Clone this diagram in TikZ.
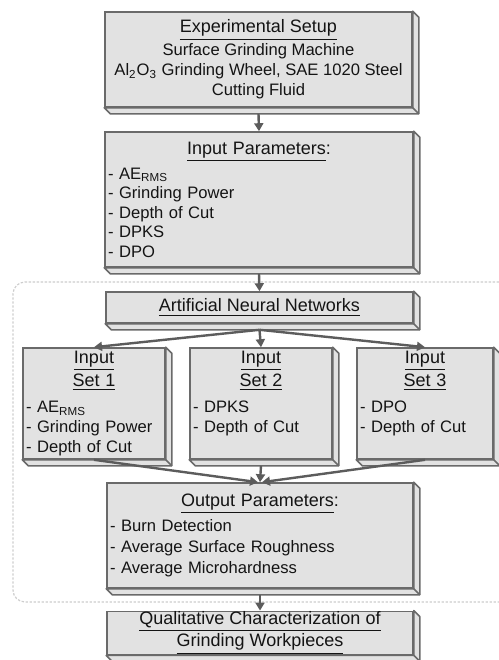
\documentclass[tikz,border=0pt]{standalone}
\usepackage{fontspec}
\setmainfont{Liberation Sans}
\usetikzlibrary{arrows.meta}
\definecolor{slabfill}{HTML}{E2E2E2}
\definecolor{slabline}{HTML}{6A6A6A}
\definecolor{flowline}{HTML}{5C5C5C}
\definecolor{framegray}{HTML}{CDCDCD}
\newcommand{\boxtitle}[2][]{{\fontsize{9}{10}\selectfont\underline{#2}#1}}
\newcommand{\ctitle}[1]{\makebox[\linewidth]{#1}}
\begin{document}
\begin{tikzpicture}[x=0.5pt, y=-0.5pt,
	slab/.style={draw=slabline, fill=slabfill, line width=0.8pt, text=black!92,
		inner xsep=1.5pt, inner ysep=0pt, font=\fontsize{8.3}{10}\selectfont},
	bevelface/.style={draw=slabline, fill=slabfill, line width=0.8pt, line join=round},
	flow/.style={draw=flowline, line width=1.2pt, -{Triangle[length=4pt, width=4.5pt]}},
	frame/.style={draw=framegray, line width=0.6pt, dash pattern=on 1.2pt off 0.8pt, rounded corners=6pt}]
	\useasboundingbox (0,0) rectangle (499,660);
	%ann frame
	\draw[frame] (499,282) -| (13,602) -- (499,602);
	%setup and inputs
	\node[slab, align=center, minimum width=153.5pt, minimum height=47.5pt] (setup) at (258.5,59.5)
		{\boxtitle{Experimental Setup}\\[1.5pt] Surface Grinding Machine\\ Al\textsubscript{2}O\textsubscript{3} Grinding Wheel, SAE 1020 Steel\\ Cutting Fluid};
	\node[slab, align=left, text width=151pt, minimum height=67.5pt, font=\fontsize{8.3}{9.75}\selectfont] (inpar) at (259,199.5)
		{\ctitle{\boxtitle[:]{Input Parameters}}\\[2.75pt] - AE\textsubscript{RMS}\\ - Grinding Power\\ - Depth of Cut\\ - DPKS\\ - DPO};
	%networks
	\node[slab, minimum width=153.5pt, minimum height=15.5pt] (ann) at (259.5,307.5) {\boxtitle{Artificial Neural Networks}};
	\node[slab, align=left, text width=68pt, minimum height=55.5pt] (set1) at (94,403.5)
		{\ctitle{\boxtitle{Input}}\\[0.5pt] \ctitle{\boxtitle{Set 1}}\\[3pt] - AE\textsubscript{RMS}\\ - Grinding Power\\ - Depth of Cut};
	\node[slab, align=left, text width=68pt, minimum height=55.5pt] (set2) at (261,403.5)
		{\ctitle{\boxtitle{Input}}\\[0.5pt] \ctitle{\boxtitle{Set 2}}\\[3pt] - DPKS\\ - Depth of Cut\\ \phantom{- Depth of Cut}};
	\node[slab, align=left, text width=65pt, minimum height=55.5pt] (set3) at (425,403.5)
		{\ctitle{\boxtitle{Input}}\\[0.5pt] \ctitle{\boxtitle{Set 3}}\\[3pt] - DPO\\ - Depth of Cut\\ \phantom{- Depth of Cut}};
	%outputs
	\node[slab, align=left, text width=150pt, minimum height=52.5pt, font=\fontsize{8.3}{10.5}\selectfont] (outpar) at (260,535.5)
		{\ctitle{\boxtitle[:]{Output Parameters}}\\[2.35pt] - Burn Detection\\ - Average Surface Roughness\\ - Average Microhardness};
	\node[slab, align=center, minimum width=153pt, minimum height=21pt] (qual) at (260,633)
		{\boxtitle{Qualitative Characterization of}\\ \boxtitle{Grinding Workpieces}};
	%bevels
	\foreach \n in {setup,inpar,ann,set1,set2,set3,outpar,qual} {
		\draw[bevelface] (\n.north east) -- ++(6,6) -- ([shift={(6,6)}]\n.south east)
			-- ([shift={(6,6)}]\n.south west) -- (\n.south west) -- (\n.south east) -- cycle;
		\draw[bevelface] (\n.south east) -- ++(6,6);
	}
	%arrows
	\draw[flow] ([yshift=-3pt]setup.south) -- (inpar.north);
	\draw[flow] ([yshift=-3pt]inpar.south) -- (ann.north);
	\foreach \s in {set1,set2,set3} {
		\draw[flow] ([yshift=-3pt]ann.south) -- (\s.north);
	}
	\draw[flow] (set1.south) -- ([xshift=-1pt]outpar.north);
	\draw[flow] ([yshift=-3pt]set2.south) -- (outpar.north);
	\draw[flow] (set3.south) -- ([xshift=1pt]outpar.north);
	\draw[flow] ([yshift=-3pt]outpar.south) -- (qual.north);
\end{tikzpicture}
\end{document}
